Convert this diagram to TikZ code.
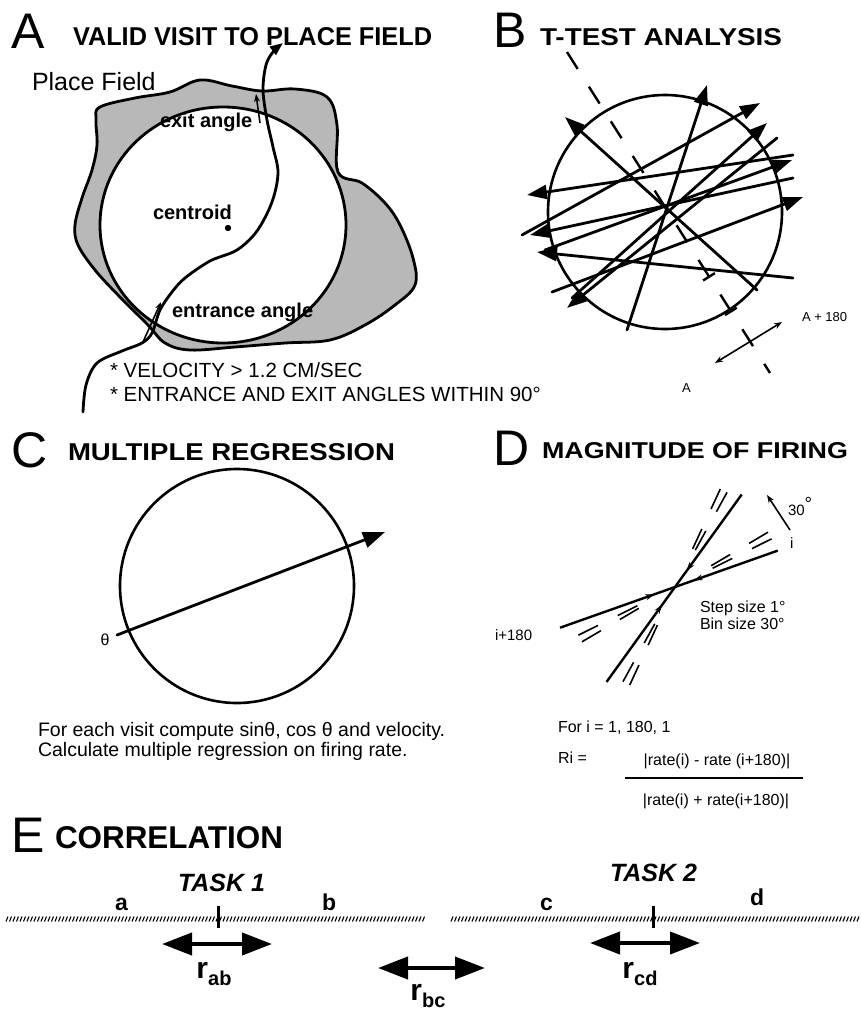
\documentclass[tikz,border=0pt]{standalone}
\usepackage{fontspec}
\setmainfont{Liberation Sans}
\usetikzlibrary{arrows.meta,calc}
\newcommand\fsz[1]{\fontsize{#1}{#1}\selectfont}
\begin{document}
\begin{tikzpicture}[x=1pt,y=-1pt,
  lbl/.style={anchor=base west,inner sep=0pt,outer sep=0pt},
  clbl/.style={anchor=base,inner sep=0pt,outer sep=0pt},
  bigl/.style={lbl,font=\fsz{50}},
  bl20/.style={lbl,font=\bfseries\fsz{20}},
  rg20/.style={lbl,font=\fsz{20.5}},
  rg19/.style={lbl,font=\fsz{19.5}},
  rg16/.style={lbl,font=\fsz{16}},
  ln/.style={line width=2.8pt,line cap=round,line join=round},
  ring/.style={line width=2.6pt},
  tri/.style={-{Triangle[length=20pt,width=14pt]}},
  thin arrow/.style={line width=1.6pt,-{Stealth[length=8pt,width=6pt]}},
  dline/.style={line width=1.6pt},
  hatch/.style={line width=1.1pt},
  dbl/.style={line width=4pt,{Triangle[length=30pt,width=22pt]}-{Triangle[length=30pt,width=22pt]}},
]
\useasboundingbox (0,0) rectangle (860,1010);

% ---------------- Panel A ----------------
\node[bigl] (bigA) at (12,48) {A};
\node[lbl] (titleA) at (73,45) {\resizebox{359pt}{18pt}{\bfseries VALID VISIT TO PLACE FIELD}};
\node[lbl,font=\fsz{25}] (pfield) at (32,90) {Place Field};
\filldraw[ln,fill=black!28] plot[smooth cycle,tension=0.6] coordinates {
 (100,107) (135,98) (170,92) (200,80) (232,86) (262,91) (295,89) (327,97)
 (337,125) (338,172) (362,183) (385,203) (400,225) (413,258) (415,285)
 (395,305) (365,325) (330,340) (285,343) (235,347) (190,350) (165,343)
 (148,325) (118,295) (95,270) (78,245) (75,225) (82,198) (92,170) (97,145) (96,120)};
\filldraw[ln,fill=white] (223,225) ellipse [x radius=123,y radius=118];
\draw[ln,-{Triangle[length=13pt,width=10pt]}] plot[smooth,tension=0.55] coordinates {
 (83,412) (86,385) (97,363) (122,351) (142,343) (152,333) (160,310) (172,292)
 (185,278) (210,261) (237,250) (257,231) (272,202) (278,173) (273,147) (267,120)
 (263,90) (266,65) (273,52) (283,43)};
\draw[thin arrow] (143,342) -- (161,302);
\draw[thin arrow] (260,123) -- (256,94);
\fill (228,228) circle [radius=3.2];
\node[bl20] (exitA) at (160,127) {exit angle};
\node[bl20] (centA) at (153,219) {centroid};
\node[bl20] (entrA) at (172,317) {entrance angle};
\node[rg20] (velA) at (110,377) {* VELOCITY > 1.2 CM/SEC};
\node[rg20] (angA) at (110,401) {* ENTRANCE AND EXIT ANGLES WITHIN 90°};

% ---------------- Panel B ----------------
\node[bigl] (bigB) at (493,47) {B};
\node[lbl] (titleB) at (540,45) {\resizebox{242pt}{17pt}{\bfseries T-TEST ANALYSIS}};
\draw[ring] (665,212) circle [radius=117];
\draw[line width=2.4pt,dash pattern=on 20pt off 21pt] (567,52) -- (770,373);
\draw[line width=2.4pt] (703.1,280.5) -- (714.9,273.1);
\draw[line width=2.4pt] (725.0,315.1) -- (736.8,307.7);
\draw[ln,tri] (627,330) -- (707,85);
\draw[ln,tri] (757,290) -- (565,117);
\draw[ln,tri] (522,235) -- (760,103);
\draw[ln,tri] (793,155) -- (527,195);
\draw[ln,tri] (572,298) -- (767,123);
\draw[ln,tri] (777,138) -- (567,308);
\draw[ln,tri] (552,292) -- (803,197);
\draw[ln,tri] (793,178) -- (530,235);
\draw[ln,tri] (793,278) -- (537,252);
\draw[ln,tri] (545,250) -- (792,160);
\draw[line width=1.6pt,{Stealth[length=8pt,width=6pt]}-{Stealth[length=8pt,width=6pt]}] (715,363) -- (782,322);
\node[lbl,font=\fsz{13}] (aplus) at (802,321) {A + 180};
\node[lbl,font=\fsz{13}] (aone) at (682,392) {A};

% ---------------- Panel C ----------------
\node[bigl] (bigC) at (12,467) {C};
\node[lbl] (titleC) at (68,460) {\resizebox{327pt}{17pt}{\bfseries MULTIPLE REGRESSION}};
\draw[ring] (237,586) circle [radius=117];
\draw[ln,-{Triangle[length=22pt,width=16pt]}] (117,635) -- (385,532);
\node[font=\fsz{16},inner sep=0pt] (theta) at (105,640) {θ};
\node[rg19] (c1) at (38,736) {For each visit compute sinθ, cos θ and velocity.};
\node[rg19] (c2) at (38,756) {Calculate multiple regression on firing rate.};

% ---------------- Panel D ----------------
\node[bigl] (bigD) at (493,465) {D};
\node[lbl] (titleD) at (542,458) {\resizebox{306pt}{16pt}{\bfseries MAGNITUDE OF FIRING}};
\begin{scope}[shift={(675,587)},yscale=-1]
  \draw[line width=2.4pt] (54.2:114) -- (234.2:117);
  \draw[line width=2.4pt] (19.5:109) -- (199.5:122);
  \foreach \p in {54.2,19.5}{
    \foreach \d in {7,11}{
      \foreach \s in {0,180}{
        \draw[dline] ({\p+\d+\s}:42) -- ({\p+\d+\s}:64);
        \draw[dline] ({\p+\d+\s}:86) -- ({\p+\d+\s}:108);
      }
    }
    \draw[line width=1.2pt,-{Stealth[length=9pt,width=6pt]}] (\p:42) -- (\p:20);
    \draw[line width=1.2pt,-{Stealth[length=9pt,width=6pt]}] ({\p+180}:45) -- ({\p+180}:22);
  }
\end{scope}
\draw[thin arrow] (790,530) -- (767,495);
\node[lbl,font=\fsz{15}] (thirty) at (788,515) {30\raisebox{5pt}{\fsz{19}°}};
\node[lbl,font=\fsz{15}] (iD) at (790,548) {i};
\node[lbl,font=\fsz{15}] (i180) at (495,640) {i+180};
\node[rg16] (step) at (700,612) {Step size 1°};
\node[rg16] (bin) at (700,629) {Bin size 30°};
\node[rg16] (fori) at (558,732) {For i = 1, 180, 1};
\node[rg16] (ri) at (558,763) {Ri =};
\node[clbl,font=\fsz{16}] (num) at (717,765) {|rate(i) - rate (i+180)|};
\draw[line width=2pt] (625,778) -- (803,778);
\node[clbl,font=\fsz{16}] (den) at (716,805) {|rate(i) + rate(i+180)|};

% ---------------- Panel E ----------------
\node[bigl] (bigE) at (12,852) {E};
\node[lbl] (titleE) at (55,848) {\resizebox{228pt}{22pt}{\bfseries CORRELATION}};
\node[lbl,font=\bfseries\itshape\fsz{25}] (t1) at (178,891) {TASK 1};
\node[lbl,font=\bfseries\itshape\fsz{25}] (t2) at (610,881) {TASK 2};
\node[lbl,font=\bfseries\fsz{23}] (la) at (115,910) {a};
\node[lbl,font=\bfseries\fsz{23}] (lb) at (322,910) {b};
\node[lbl,font=\bfseries\fsz{23}] (lc) at (540,910) {c};
\node[lbl,font=\bfseries\fsz{23}] (ld) at (750,905) {d};
\foreach \x in {6,9.5,...,424} \draw[hatch] (\x,921.5) -- (\x+2,916.5);
\foreach \x in {451,454.5,...,858} \draw[hatch] (\x,921.5) -- (\x+2,916.5);
\draw[line width=3pt] (218,906) -- (218,928);
\draw[line width=3pt] (653,906) -- (653,928);
\draw[dbl] (162,944) -- (272,944);
\draw[dbl] (378,968) -- (485,968);
\draw[dbl] (590,943) -- (700,943);
\node[clbl,font=\bfseries\fsz{30}] (rab) at (214,978) {r\raisebox{-7pt}{\fsz{20}ab}};
\node[clbl,font=\bfseries\fsz{30}] (rbc) at (428,1000) {r\raisebox{-7pt}{\fsz{20}bc}};
\node[clbl,font=\bfseries\fsz{30}] (rcd) at (640,978) {r\raisebox{-7pt}{\fsz{20}cd}};
\end{tikzpicture}
\end{document}
